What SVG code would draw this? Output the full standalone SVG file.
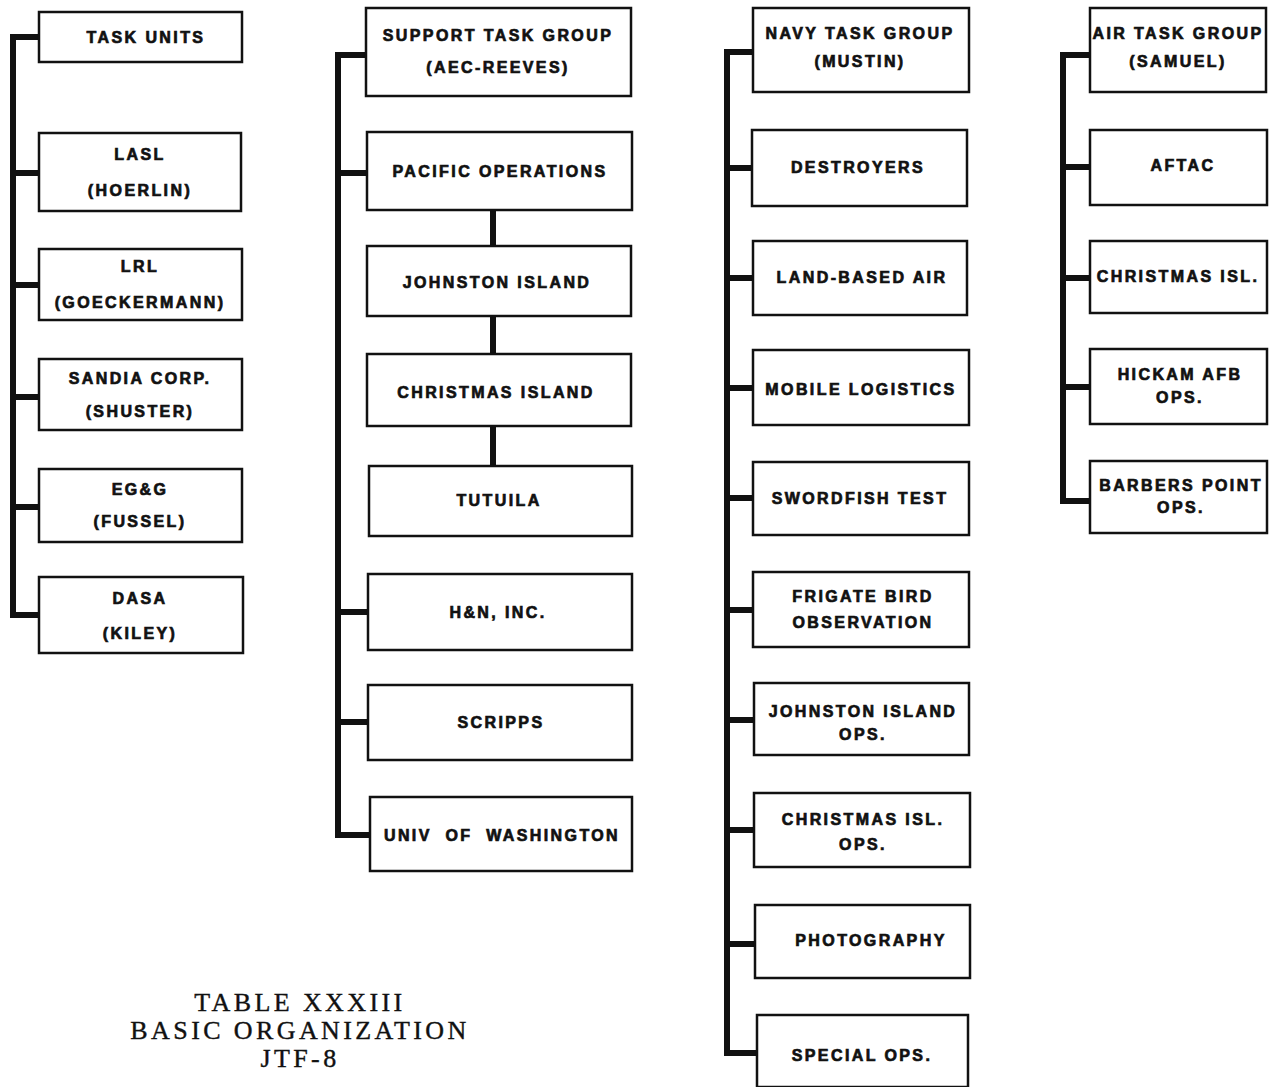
<svg xmlns="http://www.w3.org/2000/svg" width="1269" height="1087" viewBox="0 0 1269 1087">
<style>
.box{fill:#fff;stroke:#111;stroke-width:2.5}
.t{font-family:"Liberation Sans",Arial,sans-serif;font-weight:bold;font-size:16px;letter-spacing:2.4px;fill:#111;stroke:#111;stroke-width:0.7;text-anchor:middle;white-space:pre}
.c{stroke:#111;stroke-width:6;fill:none;stroke-linecap:square;stroke-linejoin:miter}
.title{font-family:"Liberation Serif","Times New Roman",serif;font-size:26px;letter-spacing:3.4px;fill:#111;stroke:#111;stroke-width:0.4;text-anchor:middle}
</style>
<rect width="1269" height="1087" fill="#fff"/>
<g id="connectors">
<path class="c" d="M39 37H13V615H39M13 173H39M13 285H39M13 397H39M13 507H39"/>
<path class="c" d="M366 55H338V835H370M338 173H367M338 612H368M338 722H368"/>
<path class="c" d="M493 210V246M493 316V354M493 426V466"/>
<path class="c" d="M753 52H727V1053H757M727 168H752M727 278H753M727 388H753M727 498H753M727 610H753M727 720H754M727 830H754M727 944H755"/>
<path class="c" d="M1090 55H1063V501H1090M1063 167H1090M1063 278H1090M1063 387H1090"/>
</g>
<g id="n-taskunits"><rect class="box" x="39" y="12" width="203" height="50"/><text class="t" x="146" y="43">TASK UNITS</text></g>
<g id="n-lasl"><rect class="box" x="39" y="133" width="202" height="78"/><text class="t" x="140" y="160">LASL</text><text class="t" x="140" y="196">(HOERLIN)</text></g>
<g id="n-lrl"><rect class="box" x="39" y="249" width="203" height="71"/><text class="t" x="140" y="272">LRL</text><text class="t" x="140" y="308">(GOECKERMANN)</text></g>
<g id="n-sandia"><rect class="box" x="39" y="359" width="203" height="71"/><text class="t" x="140" y="384">SANDIA CORP.</text><text class="t" x="140" y="417">(SHUSTER)</text></g>
<g id="n-egg"><rect class="box" x="39" y="469" width="203" height="73"/><text class="t" x="140" y="495">EG&amp;G</text><text class="t" x="140" y="527">(FUSSEL)</text></g>
<g id="n-dasa"><rect class="box" x="39" y="577" width="204" height="76"/><text class="t" x="140" y="604">DASA</text><text class="t" x="140" y="639">(KILEY)</text></g>

<g id="n-support"><rect class="box" x="366" y="8" width="265" height="88"/><text class="t" x="498" y="41">SUPPORT TASK GROUP</text><text class="t" x="498" y="73">(AEC-REEVES)</text></g>
<g id="n-pacific"><rect class="box" x="367" y="132" width="265" height="78"/><text class="t" x="500" y="177">PACIFIC OPERATIONS</text></g>
<g id="n-johnston"><rect class="box" x="367" y="246" width="264" height="70"/><text class="t" x="497" y="288">JOHNSTON ISLAND</text></g>
<g id="n-christmas"><rect class="box" x="367" y="354" width="264" height="72"/><text class="t" x="496" y="398">CHRISTMAS ISLAND</text></g>
<g id="n-tutuila"><rect class="box" x="369" y="466" width="263" height="70"/><text class="t" x="499" y="506">TUTUILA</text></g>
<g id="n-hn"><rect class="box" x="368" y="574" width="264" height="76"/><text class="t" x="498" y="618">H&amp;N, INC.</text></g>
<g id="n-scripps"><rect class="box" x="368" y="685" width="264" height="75"/><text class="t" x="501" y="728">SCRIPPS</text></g>
<g id="n-univ"><rect class="box" x="370" y="797" width="262" height="74"/><text class="t" x="502" y="841">UNIV  OF  WASHINGTON</text></g>

<g id="n-navy"><rect class="box" x="753" y="8" width="216" height="84"/><text class="t" x="860" y="39">NAVY TASK GROUP</text><text class="t" x="860" y="67">(MUSTIN)</text></g>
<g id="n-destroyers"><rect class="box" x="752" y="130" width="215" height="76"/><text class="t" x="858" y="173">DESTROYERS</text></g>
<g id="n-landair"><rect class="box" x="753" y="241" width="214" height="74"/><text class="t" x="862" y="283">LAND-BASED AIR</text></g>
<g id="n-mobile"><rect class="box" x="753" y="350" width="216" height="75"/><text class="t" x="861" y="395">MOBILE LOGISTICS</text></g>
<g id="n-swordfish"><rect class="box" x="753" y="462" width="216" height="73"/><text class="t" x="860" y="504">SWORDFISH TEST</text></g>
<g id="n-frigate"><rect class="box" x="753" y="572" width="216" height="75"/><text class="t" x="863" y="602">FRIGATE BIRD</text><text class="t" x="863" y="628">OBSERVATION</text></g>
<g id="n-jiops"><rect class="box" x="754" y="683" width="215" height="72"/><text class="t" x="863" y="717">JOHNSTON ISLAND</text><text class="t" x="863" y="740">OPS.</text></g>
<g id="n-ciops"><rect class="box" x="754" y="793" width="216" height="74"/><text class="t" x="863" y="825">CHRISTMAS ISL.</text><text class="t" x="863" y="850">OPS.</text></g>
<g id="n-photo"><rect class="box" x="755" y="905" width="215" height="73"/><text class="t" x="871" y="946">PHOTOGRAPHY</text></g>
<g id="n-special"><rect class="box" x="757" y="1015" width="211" height="72"/><text class="t" x="862" y="1061">SPECIAL OPS.</text></g>

<g id="n-air"><rect class="box" x="1090" y="8" width="176" height="84"/><text class="t" x="1178" y="39">AIR TASK GROUP</text><text class="t" x="1178" y="67">(SAMUEL)</text></g>
<g id="n-aftac"><rect class="box" x="1090" y="130" width="177" height="75"/><text class="t" x="1183" y="171">AFTAC</text></g>
<g id="n-cisl"><rect class="box" x="1090" y="241" width="177" height="72"/><text class="t" x="1178" y="282">CHRISTMAS ISL.</text></g>
<g id="n-hickam"><rect class="box" x="1090" y="349" width="177" height="75"/><text class="t" x="1180" y="380">HICKAM AFB</text><text class="t" x="1180" y="403">OPS.</text></g>
<g id="n-barbers"><rect class="box" x="1090" y="461" width="177" height="72"/><text class="t" x="1181" y="491">BARBERS POINT</text><text class="t" x="1181" y="513">OPS.</text></g>

<g id="title">
<text class="title" x="300" y="1011">TABLE XXXIII</text>
<text class="title" x="300" y="1039">BASIC ORGANIZATION</text>
<text class="title" x="300" y="1067">JTF-8</text>
</g>
</svg>
